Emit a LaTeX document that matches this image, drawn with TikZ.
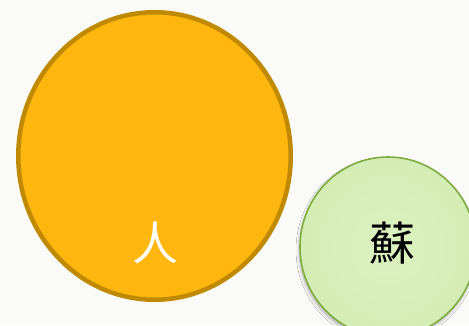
\documentclass[tikz,border=0pt]{standalone}
\usepackage{fontspec}
\newfontfamily\cjk{Noto Sans CJK TC}
\usetikzlibrary{shapes.geometric,shadows.blur}
\definecolor{bgcol}{RGB}{250,250,248}
\definecolor{orfill}{RGB}{255,182,14}
\definecolor{ordraw}{RGB}{191,138,0}
\definecolor{grfill}{RGB}{212,237,180}
\definecolor{grinner}{RGB}{220,241,193}
\definecolor{grdraw}{RGB}{128,172,64}
\tikzset{
  bigcirc/.style={ellipse, draw=ordraw, fill=orfill, line width=4.5pt, inner sep=0pt},
  smallcirc/.style={ellipse, draw=grdraw, line width=1.6pt, inner sep=0pt,
    inner color=grinner, outer color=grfill,
    blur shadow={shadow xshift=-1pt, shadow yshift=-3pt, shadow blur radius=3pt, shadow opacity=30}},
  lbl/.style={font=\cjk\fontsize{46}{46}\selectfont, inner sep=0pt}
}
\begin{document}
\begin{tikzpicture}[x=1pt,y=1pt]
\useasboundingbox (0,0) rectangle (469,325);
\fill[bgcol] (0,0) rectangle (469,325);
\clip (0,0) rectangle (469,325);
\node[bigcirc, minimum width=272.5pt, minimum height=287.5pt] (ren) at (154.5,169) {};
\node[lbl, text=white] (rentext) at (155,82) {人};
\node[smallcirc, minimum width=176pt, minimum height=180pt] (su) at (388,78) {};
\node[lbl, text=black] (sutext) at (392,82) {蘇};
\end{tikzpicture}
\end{document}
